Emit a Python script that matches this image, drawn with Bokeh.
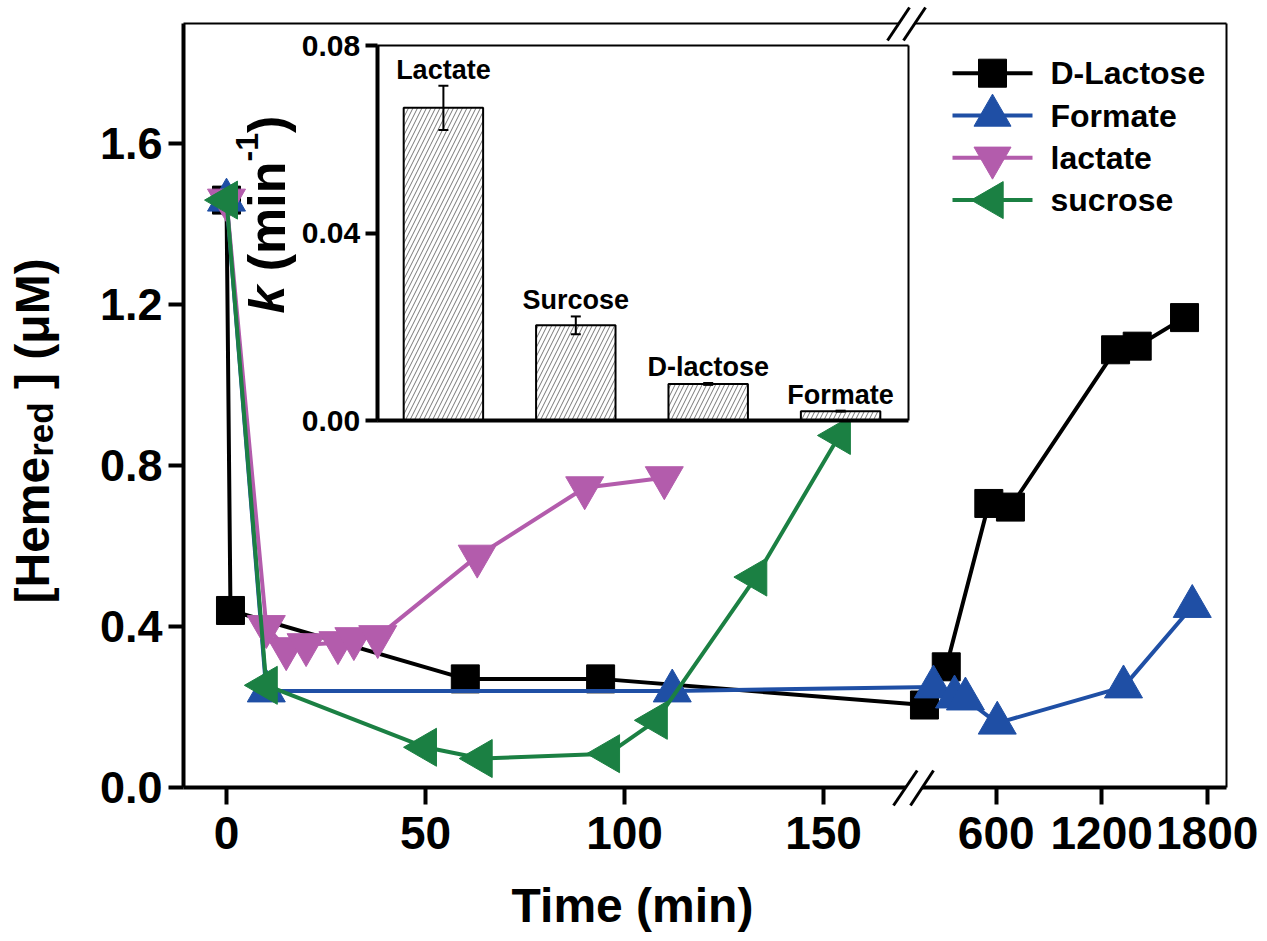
import math
from bokeh.plotting import figure
from bokeh.models import (Range1d, LinearAxis, FixedTicker, NumeralTickFormatter,
                          CustomJSTickFormatter, ColumnDataSource, Label, Whisker,
                          TeeHead, PolyAnnotation, Arrow)
from bokeh.core.properties import value
from bokeh.embed import file_html
from bokeh.resources import INLINE

# ---------------- data ----------------
SERIES_NAMES = ["D-Lactose", "Formate", "lactate", "sucrose"]

DLAC_T = [0, 1, 60, 94, 192, 316, 558, 681, 1279, 1402, 1671]
DLAC_V = [1.46, 0.44, 0.27, 0.27, 0.205, 0.30, 0.706, 0.697, 1.088, 1.097, 1.168]

FORM_T = [0, 10, 112, 243, 363, 425, 606, 1324, 1715]
FORM_V = [1.46, 0.24, 0.24, 0.25, 0.225, 0.22, 0.16, 0.25, 0.45]

LACT_T = [0, 10, 15, 20, 28, 32, 38, 63, 90, 110]
LACT_V = [1.46, 0.40, 0.345, 0.355, 0.36, 0.37, 0.375, 0.575, 0.745, 0.77]

SUCR_T = [0, 10, 50, 64, 96, 108, 133, 154]
SUCR_V = [1.46, 0.254, 0.10, 0.072, 0.084, 0.167, 0.523, 0.875]

X_TICK_VALUES = [0, 50, 100, 150, 600, 1200, 1800]
Y_TICKS = [0.0, 0.4, 0.8, 1.2, 1.6]

K_LABELS = ["Lactate", "Surcose", "D-lactose", "Formate"]
K_VALUES = [0.0667, 0.0203, 0.0078, 0.0020]
K_ERRORS = [0.0047, 0.0019, 0.0002, 0.0001]
K_TICKS = [0.0, 0.04, 0.08]

# ---------------- styles ----------------
COLORS = ["#000000", "#1F4FA5", "#B35CAC", "#1B8043"]
MARKERS = ["square", "triangle", "inverted_triangle", "triangle"]
ANGLES = [0.0, 0.0, 0.0, math.pi / 2]
SIZES = [28, 38, 38, 38]
FONT = "Liberation Sans"

# ---------------- geometry (page px; the canvas is the whole page) ----------------
W, H = 1267, 941
FL, FR, FT, FB = 183, 1226, 23, 787        # visual frame of the main chart
X0_PX = 226.0                              # t = 0
PX_PER_MIN = 3.98
X600_PX = 995.7                            # t = 600 (after the break)
PX_PER_MIN_R = 105.5 / 600
LEFT_MAX = 172.0
U600 = (X600_PX - X0_PX) / PX_PER_MIN
K_R = PX_PER_MIN_R / PX_PER_MIN
Y_PX_PER_UNIT = (FB - 143.3) / 1.6


def brk(t):
    return t if t <= LEFT_MAX else U600 + (t - 600) * K_R


def px2u(px):
    return (px - X0_PX) / PX_PER_MIN


def py2v(py):
    return (FB - py) / Y_PX_PER_UNIT


XR = (px2u(0), px2u(W))
YR = (py2v(H), py2v(0))

# inset geometry
INSET_L_PX, INSET_R_PX, INSET_PITCH = 376.7, 908.0, 132.4
INSET_ZERO_PY, INSET_TOP_PY, INSET_TOP_VAL = 420.0, 45.0, 0.08
IPER = INSET_TOP_VAL / (INSET_ZERO_PY - INSET_TOP_PY)
IXR = (-0.5 - INSET_L_PX / INSET_PITCH, -0.5 + (W - INSET_L_PX) / INSET_PITCH)
IYR = (-(H - INSET_ZERO_PY) * IPER, INSET_TOP_VAL + INSET_TOP_PY * IPER)
IX_L = -0.5
IX_R = -0.5 + (INSET_R_PX - INSET_L_PX) / INSET_PITCH

p = figure(width=W, height=H, x_range=Range1d(*XR), y_range=Range1d(*YR),
           output_backend="svg", toolbar_location=None,
           x_axis_location=None, y_axis_location=None,
           min_border_left=0, min_border_right=0, min_border_top=0, min_border_bottom=0,
           background_fill_color="white", border_fill_color="white")
p.xgrid.visible = False
p.ygrid.visible = False
p.outline_line_color = None
p.extra_x_ranges = {"ix": Range1d(*IXR)}
p.extra_y_ranges = {"iy": Range1d(*IYR)}


def style_axis(ax, size, tick_out, lw, standoff):
    ax.axis_line_width = lw
    ax.axis_line_color = "black"
    ax.major_tick_line_width = lw
    ax.major_tick_out = tick_out
    ax.major_tick_in = 0
    ax.minor_tick_line_color = None
    ax.major_label_text_font = FONT
    ax.major_label_text_font_style = "bold"
    ax.major_label_text_font_size = size
    ax.major_label_text_color = "black"
    ax.major_label_standoff = standoff


tick_pos = [brk(t) for t in X_TICK_VALUES]
xax = LinearAxis(fixed_location=0.0, bounds=(px2u(FL), px2u(FR)),
                 ticker=FixedTicker(ticks=tick_pos, minor_ticks=[]),
                 formatter=CustomJSTickFormatter(
                     args=dict(tpos=tick_pos, tlabels=[str(t) for t in X_TICK_VALUES]),
                     code="""
let best = 0, bd = Infinity;
for (let i = 0; i < tpos.length; i++) {
  const d = Math.abs(tpos[i] - tick);
  if (d < bd) { bd = d; best = i; }
}
return tlabels[best];
"""))
style_axis(xax, "46px", 17, 4, 12)
p.add_layout(xax, "below")

yax = LinearAxis(fixed_location=px2u(FL), bounds=(0.0, py2v(FT)),
                 ticker=FixedTicker(ticks=Y_TICKS, minor_ticks=[]),
                 formatter=NumeralTickFormatter(format="0.0"))
style_axis(yax, "45px", 15, 4, 6)
p.add_layout(yax, "left")

# top and right borders of the main frame
p.segment(x0=[px2u(FL), px2u(FR)], y0=[py2v(FT), 0.0],
          x1=[px2u(FR), px2u(FR)], y1=[py2v(FT), py2v(FT)],
          line_color="black", line_width=2)

# ---------------- main series ----------------
series = [(DLAC_T, DLAC_V), (FORM_T, FORM_V), (LACT_T, LACT_V), (SUCR_T, SUCR_V)]
for (T, V), c, m, a, s in zip(series, COLORS, MARKERS, ANGLES, SIZES):
    src = ColumnDataSource(dict(t=T, v=V, u=[brk(t) for t in T]))
    p.line("u", "v", source=src, line_color=c, line_width=4)
    p.scatter("u", "v", source=src, marker=m, size=s, angle=a,
              fill_color=c, line_color=c, line_width=1)

# ---------------- legend ----------------
LEG_X0, LEG_X1, LEG_MX, LEG_TX = 952, 1032, 992, 1050
LEG_Y0, LEG_DY = 72.7, 42.3
rows_y = [py2v(LEG_Y0 + i * LEG_DY) for i in range(len(SERIES_NAMES))]
lsrc = ColumnDataSource(dict(
    x0=[px2u(LEG_X0)] * 4, x1=[px2u(LEG_X1)] * 4, xm=[px2u(LEG_MX)] * 4,
    xt=[px2u(LEG_TX)] * 4, y=rows_y, color=COLORS, marker=MARKERS,
    angle=ANGLES, size=[28, 37, 37, 37], label=SERIES_NAMES))
p.segment(x0="x0", y0="y", x1="x1", y1="y", source=lsrc, line_color="color", line_width=4)
p.scatter(x="xm", y="y", source=lsrc, marker="marker", size="size", angle="angle",
          fill_color="color", line_color="color")
p.text(x="xt", y="y", text="label", source=lsrc, text_font=value(FONT),
       text_font_style="bold", text_font_size="32px", text_baseline="middle",
       text_align="left", text_color="black")

# ---------------- inset ----------------
ksrc = ColumnDataSource(dict(
    x=list(range(len(K_LABELS))), k=K_VALUES, label=K_LABELS,
    up=[v + e for v, e in zip(K_VALUES, K_ERRORS)],
    lo=[v - e for v, e in zip(K_VALUES, K_ERRORS)]))
p.vbar(x="x", top="k", bottom=0, width=0.6, source=ksrc,
       x_range_name="ix", y_range_name="iy",
       fill_color="white", line_color="black", line_width=2,
       hatch_pattern="/", hatch_color="#777777", hatch_scale=9, hatch_weight=1)
wh = Whisker(source=ksrc, base="x", upper="up", lower="lo",
             x_range_name="ix", y_range_name="iy", level="annotation",
             line_color="black", line_width=2,
             upper_head=TeeHead(size=10, line_width=2, line_color="black"),
             lower_head=TeeHead(size=10, line_width=2, line_color="black"))
p.add_layout(wh)
p.text(x="x", y="up", text="label", source=ksrc, x_range_name="ix", y_range_name="iy",
       text_font=value(FONT), text_font_style="bold", text_font_size="27px",
       text_align="center", text_baseline="alphabetic", y_offset=-16, text_color="black")

# inset frame
p.segment(x0=[IX_L], y0=[0.0], x1=[IX_R], y1=[0.0], x_range_name="ix", y_range_name="iy",
          line_color="black", line_width=4)
p.segment(x0=[IX_L, IX_R], y0=[0.08, 0.0], x1=[IX_R, IX_R], y1=[0.08, 0.08],
          x_range_name="ix", y_range_name="iy", line_color="black", line_width=2)

iax = LinearAxis(x_range_name="ix", y_range_name="iy", fixed_location=IX_L,
                 bounds=(0.0, 0.08),
                 ticker=FixedTicker(ticks=K_TICKS, minor_ticks=[]),
                 formatter=NumeralTickFormatter(format="0.00"))
style_axis(iax, "30px", 12, 4, 5)
p.add_layout(iax, "left")

# ---------------- axis titles ----------------
def lab(px, py, text, size, style="bold", angle=0.0, align="left"):
    return Label(x=px2u(px), y=py2v(py), text=text, angle=angle,
                 text_align=align, text_baseline="alphabetic",
                 text_font=FONT, text_font_size=f"{size}px",
                 text_font_style=style, text_color="black")


R90 = math.pi / 2
p.add_layout(lab(632, 905, "Time (min)", 48, align="center"))

RX = 23  # rendering shift of rotated labels
Y0 = 603
p.add_layout(lab(55 - RX, Y0, "[Heme", 48, angle=R90))
Y1 = Y0 - 3.056 * 48
p.add_layout(lab(63 - RX, Y1, "red", 35, angle=R90))
Y2 = Y1 - 1.556 * 35 - 0.278 * 48
p.add_layout(lab(55 - RX, Y2, "] (\u03bcM)", 48, angle=R90))

RXK = 25
K0 = 313
p.add_layout(lab(291.7 - RXK, K0, "k", 50, style="bold italic", angle=R90))
K1 = K0 - 0.556 * 50 - 0.278 * 52
p.add_layout(lab(291.7 - RXK, K1, "(min", 52, angle=R90))
K2 = K1 - 2.111 * 52
p.add_layout(lab(271.7 - RXK, K2, "-1", 32, angle=R90))
K3 = K2 - 0.889 * 32
p.add_layout(lab(291.7 - RXK, K3, ")", 52, angle=R90))

# ---------------- axis break marks ----------------
def slash_x(x_lo, y_lo, x_hi, y_hi, y):
    return x_lo + (y - y_lo) * (x_hi - x_lo) / (y_hi - y_lo)


def add_break(s1, s2, yc, half):
    ys = [yc + half, yc + half, yc - half, yc - half]
    xs = [slash_x(*s1, ys[0]), slash_x(*s2, ys[1]), slash_x(*s2, ys[2]), slash_x(*s1, ys[3])]
    p.add_layout(PolyAnnotation(xs=[px2u(x) for x in xs], ys=[py2v(y) for y in ys],
                                fill_color="white", fill_alpha=1.0, line_alpha=0.0))
    for (x_lo, y_lo, x_hi, y_hi) in (s1, s2):
        p.add_layout(Arrow(end=None, x_start=px2u(x_lo), y_start=py2v(y_lo),
                           x_end=px2u(x_hi), y_end=py2v(y_hi),
                           line_color="black", line_width=3))


add_break((893, 805, 916.7, 770), (910, 805, 933, 770), FB, 5)
add_break((887, 40, 909, 7), (903, 40, 925, 7), FT, 4)

open("out.html", "w").write(file_html(p, INLINE))
